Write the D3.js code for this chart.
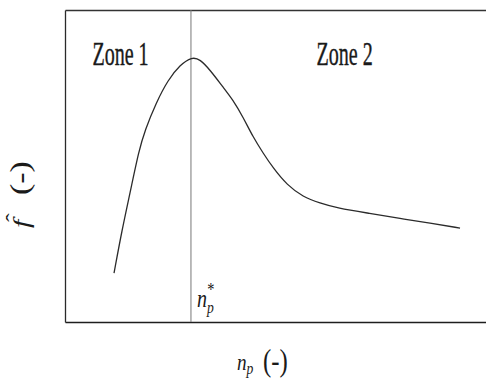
<!DOCTYPE html>
<html>
<head>
<meta charset="utf-8">
<script src="https://cdn.jsdelivr.net/npm/d3@7"></script>
<style>
  html, body { margin: 0; padding: 0; background: #fff; }
  svg { display: block; }
  text { font-family: "Liberation Serif", "DejaVu Serif", serif; fill: #1a1a1a; }
</style>
</head>
<body>
<svg id="chart" width="486" height="385"></svg>
<script>
// Particle number n_p (arbitrary units) and normalised response f-hat
const npValues = [1.148, 1.335, 1.522, 1.733, 1.874, 2.131, 2.412, 2.693, 2.974, 3.162, 3.396, 3.700, 3.934, 4.169, 4.403, 4.637, 4.871, 5.199, 5.574, 5.972, 6.370, 7.143, 7.845, 8.548, 9.251];
const fHatValues = [0.157, 0.295, 0.413, 0.551, 0.615, 0.702, 0.776, 0.824, 0.850, 0.842, 0.808, 0.753, 0.712, 0.657, 0.593, 0.542, 0.494, 0.439, 0.401, 0.381, 0.365, 0.348, 0.332, 0.317, 0.301];
// Optimum particle number separating the two zones
const npStar = [2.95];
const zoneLabels = ["Zone 1", "Zone 2"];
const zoneCentres = [1.3, 6.55];

const svg = d3.select("#chart");
const margin = { left: 65, top: 10, right: -6, bottom: 63 };
const W = 486, H = 385;

const x = d3.scaleLinear().domain([0, 10]).range([margin.left, W - margin.right]);
const y = d3.scaleLinear().domain([0, 1]).range([H - margin.bottom, margin.top]);

// Frame: bottom, left and top axes with no ticks
svg.append("g")
  .attr("transform", `translate(0,${y(0)})`)
  .call(d3.axisBottom(x).tickValues([]).tickSizeOuter(0))
  .select(".domain").attr("stroke", "#1e1e1e").attr("stroke-width", 1.6);
svg.append("g")
  .attr("transform", `translate(${x(0)},0)`)
  .call(d3.axisLeft(y).tickValues([]).tickSizeOuter(0))
  .select(".domain").attr("stroke", "#2a2a2a").attr("stroke-width", 1.3);
svg.append("g")
  .attr("transform", `translate(0,${y(1)})`)
  .call(d3.axisTop(x).tickValues([]).tickSizeOuter(0))
  .select(".domain").attr("stroke", "#333").attr("stroke-width", 1.4);

// Vertical marker at the optimum
svg.append("line")
  .attr("x1", x(npStar[0])).attr("x2", x(npStar[0]))
  .attr("y1", y(1)).attr("y2", y(0))
  .attr("stroke", "#777").attr("stroke-width", 1);

// Response curve (smoothed B-spline through the sampled points)
const pts = npValues.map((v, i) => [v, fHatValues[i]]);
svg.append("path")
  .datum(pts)
  .attr("fill", "none")
  .attr("stroke", "#2b2b2b")
  .attr("stroke-width", 1.3)
  .attr("d", d3.line().x(d => x(d[0])).y(d => y(d[1])).curve(d3.curveBasis));

// Zone labels
zoneLabels.forEach((lab, i) => {
  svg.append("text")
    .attr("transform", `translate(${x(zoneCentres[i])},65) scale(0.59,1)`)
    .attr("text-anchor", "middle")
    .attr("font-size", 34)
    .attr("stroke", "#1a1a1a").attr("stroke-width", 0.4)
    .text(lab);
});

// n_p^* label beside the marker
const starLab = svg.append("text")
  .attr("transform", `translate(${x(npStar[0]) + 6},307) scale(0.8,1)`)
  .attr("font-size", 25)
  .attr("font-style", "italic");
starLab.append("tspan").text("n");
starLab.append("tspan").attr("font-size", 17).attr("dy", 6).text("p");
starLab.append("tspan").attr("font-size", 18).attr("font-style", "normal").attr("dx", -8).attr("dy", -17).text("*");

// x-axis title n_p (-)
const xt = svg.append("text")
  .attr("transform", `translate(237,370) scale(0.8,1)`)
  .attr("font-size", 24);
xt.append("tspan").attr("font-style", "italic").text("n");
xt.append("tspan").attr("font-style", "italic").attr("font-size", 17).attr("dy", 4).text("p");
xt.append("tspan").attr("dy", -3).attr("dx", 12).attr("font-size", 31).text("(-)");

// y-axis title f-hat (-)
const yt = svg.append("g").attr("transform", "translate(29,228) rotate(-90) scale(1,0.8)");
yt.append("text").attr("font-size", 30).attr("font-style", "italic").text("f");
yt.append("text").attr("font-size", 26).attr("x", 6).attr("y", -10).text("\u02C6");
yt.append("text").attr("font-size", 34).attr("x", 33).text("(-)");
</script>
</body>
</html>
